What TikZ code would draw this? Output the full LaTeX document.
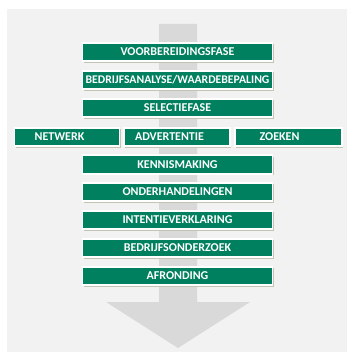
\documentclass[tikz,border=0pt]{standalone}
\usepackage{fontspec}
\setmainfont{Carlito}
\usetikzlibrary{shadows}
\definecolor{fasegreen}{HTML}{00805F}
\definecolor{bggray}{HTML}{F2F2F2}
\definecolor{arrowgray}{HTML}{D9D9D9}
\definecolor{shadegray}{HTML}{C4C4B4}
\tikzset{
    fase/.style={rectangle,fill=fasegreen,draw=white,line width=1.8pt,
        minimum width=190pt,minimum height=18.5pt,inner sep=0pt,
        text=white,font=\fontsize{12}{13}\selectfont\bfseries,
        drop shadow={shadow xshift=1.4pt,shadow yshift=-1.4pt,fill=shadegray,opacity=1}},
    kanaal/.style={fase,minimum width=105pt},
}
\begin{document}
\begin{tikzpicture}[x=1pt,y=-1pt]
    \useasboundingbox (0,0) rectangle (347,352);
    \fill[bggray] (7,9) rectangle (347,352);
    % grote pijl
    \fill[arrowgray] (159,24) -- (197,24) -- (197,302) -- (250,302)
        -- (178,348) -- (106,302) -- (159,302) -- cycle;
    \node[fase] (voor) at (177.5,52) {VOORBEREIDINGSFASE};
    \node[fase,font=\fontsize{11.7}{13}\selectfont\bfseries] (analyse) at (177.5,80) {BEDRIJFSANALYSE/WAARDEBEPALING};
    \node[fase] (selectie) at (177.5,108) {SELECTIEFASE};
    \node[kanaal] (netwerk) at (67,137) {NETWERK\hspace*{15pt}};
    \node[kanaal,minimum width=106pt] (advertentie) at (177,137) {ADVERTENTIE\hspace*{15pt}};
    \node[kanaal,minimum width=107pt] (zoeken) at (288.5,137) {ZOEKEN\hspace*{18pt}};
    \node[fase] (kennis) at (177.5,164.5) {KENNISMAKING};
    \node[fase] (onder) at (177.5,192) {ONDERHANDELINGEN};
    \node[fase] (intentie) at (177.5,220) {INTENTIEVERKLARING};
    \node[fase] (onderzoek) at (177.5,248) {BEDRIJFSONDERZOEK};
    \node[fase] (afronding) at (177.5,276) {AFRONDING};
\end{tikzpicture}
\end{document}
